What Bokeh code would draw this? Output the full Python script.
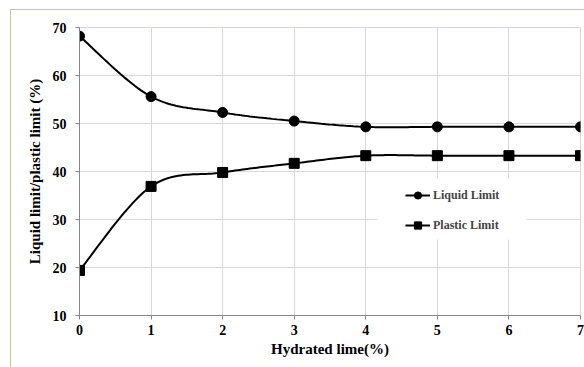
import numpy as np
from bokeh.plotting import figure
from bokeh.models import Legend, LegendItem, BoxAnnotation, FixedTicker, InlineStyleSheet
from bokeh.embed import file_html
from bokeh.resources import INLINE

# ---- data ----
lime = [0, 1, 2, 3, 4, 5, 6, 7]
liquid_limit = [68.2, 55.6, 52.3, 50.5, 49.3, 49.3, 49.3, 49.3]
plastic_limit = [19.4, 36.9, 39.8, 41.7, 43.3, 43.3, 43.3, 43.3]
x_ticks = [0, 1, 2, 3, 4, 5, 6, 7]
y_ticks = [10, 20, 30, 40, 50, 60, 70]


def smooth(xs, ys, n=30):
    """Excel-like smoothed line: cubic Bezier with Catmull-Rom control points."""
    xs = np.asarray(xs, float)
    ys = np.asarray(ys, float)
    out_x, out_y = [], []
    m = len(xs)
    t = np.linspace(0, 1, n)
    for i in range(m - 1):
        p0 = np.array([xs[max(i - 1, 0)], ys[max(i - 1, 0)]])
        p1 = np.array([xs[i], ys[i]])
        p2 = np.array([xs[i + 1], ys[i + 1]])
        p3 = np.array([xs[min(i + 2, m - 1)], ys[min(i + 2, m - 1)]])
        c1 = p1 + (p2 - p0) / 6.0
        c2 = p2 - (p3 - p1) / 6.0
        for tt in t[:-1] if i < m - 2 else t:
            b = ((1 - tt) ** 3) * p1 + 3 * ((1 - tt) ** 2) * tt * c1 + 3 * (1 - tt) * tt ** 2 * c2 + tt ** 3 * p2
            out_x.append(b[0])
            out_y.append(b[1])
    return out_x, out_y


FONT = "'Liberation Serif', serif"

frame_css = InlineStyleSheet(css="""
:host { position: relative; }
:host::after {
  content: "";
  position: absolute;
  left: 10px; top: 9px; width: 700px; height: 500px;
  border-left: 1px solid #cbc3a5;
  border-top: 1px solid #cbc3a5;
  pointer-events: none;
}
""")

p = figure(width=584, height=367, output_backend="svg", toolbar_location=None,
           x_range=(0, 7), y_range=(10, 70),
           min_border_left=79, min_border_right=4, min_border_top=27, min_border_bottom=52,
           stylesheets=[frame_css])
p.background_fill_color = "white"
p.border_fill_color = "white"
p.outline_line_color = "#ddd6c2"
p.outline_line_width = 1

# grid
p.xgrid.grid_line_color = "#d9d9d9"
p.ygrid.grid_line_color = "#d9d9d9"
p.xgrid.ticker = FixedTicker(ticks=x_ticks)
p.ygrid.ticker = FixedTicker(ticks=y_ticks)

# axes
for ax in (p.xaxis[0], p.yaxis[0]):
    ax.axis_line_color = "#868686"
    ax.major_tick_line_color = "#868686"
    ax.major_tick_out = 4
    ax.major_tick_in = 0
    ax.minor_tick_line_color = None
    ax.major_label_text_font = FONT
    ax.major_label_text_font_style = "bold"
    ax.major_label_text_font_size = "14px"
    ax.major_label_text_color = "black"
    ax.axis_label_text_font = FONT
    ax.axis_label_text_font_style = "bold"
    ax.axis_label_text_font_size = "15px"
    ax.axis_label_text_color = "black"

p.xaxis.ticker = FixedTicker(ticks=x_ticks)
p.yaxis.ticker = FixedTicker(ticks=y_ticks)
p.xaxis.axis_label = "Hydrated lime(%)"
p.yaxis.axis_label = "Liquid limit/plastic limit (%)"
p.xaxis.major_label_standoff = 5
p.yaxis.major_label_standoff = 9
p.xaxis.axis_label_standoff = 3
p.yaxis.axis_label_standoff = 7

# series
lx, ly = smooth(lime, liquid_limit)
px, py = smooth(lime, plastic_limit)
p.line(lx, ly, line_color="black", line_width=2)
p.scatter(lime, liquid_limit, marker="circle", size=10, color="black")
p.line(px, py, line_color="black", line_width=2)
p.scatter(lime, plastic_limit, marker="square", size=10, color="black")

# hidden legend proxies (smaller markers as in the legend of the original)
pl1 = p.line(lime, liquid_limit, line_color="black", line_width=2, visible=False)
ps1 = p.scatter(lime, liquid_limit, marker="circle", size=8, color="black", visible=False)
pl2 = p.line(lime, plastic_limit, line_color="black", line_width=2, visible=False)
ps2 = p.scatter(lime, plastic_limit, marker="square", size=8, color="black", visible=False)

# legend mask
mask = BoxAnnotation(left=377, right=526, top=178, bottom=239,
                     left_units="canvas", right_units="canvas",
                     top_units="canvas", bottom_units="canvas",
                     fill_color="white", fill_alpha=1, line_alpha=0)
p.add_layout(mask)

legend = Legend(items=[LegendItem(label="Liquid Limit", renderers=[pl1, ps1]),
                       LegendItem(label="Plastic Limit", renderers=[pl2, ps2])],
                location=(326, 81), padding=0, margin=0, spacing=12,
                glyph_width=25, glyph_height=18, label_height=18, label_standoff=3,
                label_text_font=FONT, label_text_font_style="bold",
                label_text_font_size="12px", background_fill_alpha=0,
                border_line_alpha=0, inactive_fill_alpha=0)
p.add_layout(legend)

open("out.html", "w").write(file_html(p, INLINE))
